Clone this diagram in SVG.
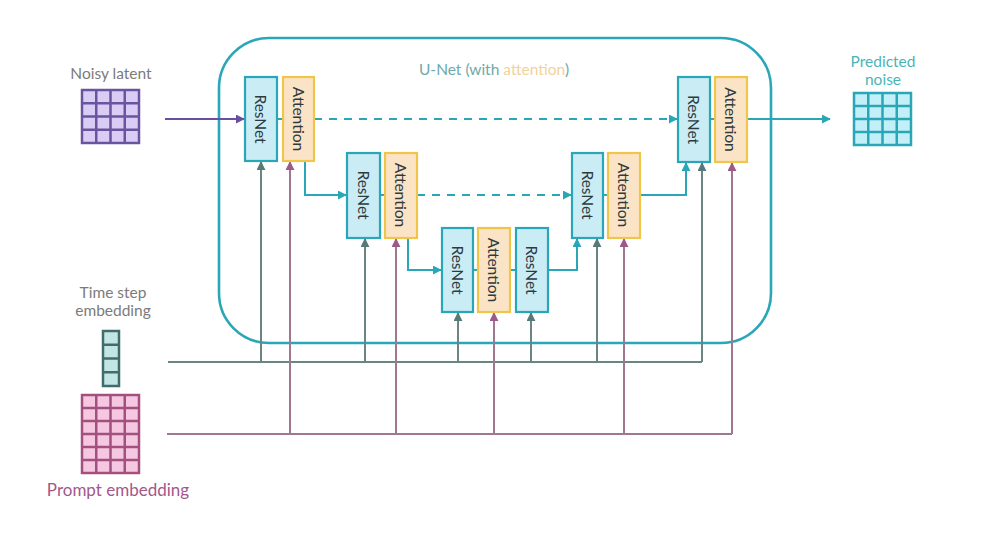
<svg xmlns="http://www.w3.org/2000/svg" width="981" height="533" viewBox="0 0 981 533">
<style>
  text { font-family: Lato, "Open Sans", "Liberation Sans", sans-serif; }
  .res { fill: #c9ecf5; stroke: #2aa7b7; stroke-width: 2.2; }
  .att { fill: #fbe4c6; stroke: #f0c64a; stroke-width: 2.2; }
  .blbl { font-size: 15.5px; fill: #2e3a3e; text-anchor: middle; dominant-baseline: central; }
  .teal { fill: none; stroke: #2aa7b7; stroke-width: 2; }
  .dash { fill: none; stroke: #2aa7b7; stroke-width: 2; stroke-dasharray: 8 7; }
  .time { fill: none; stroke: #6b8583; stroke-width: 2; }
  .prm { fill: none; stroke: #9f7790; stroke-width: 2; }
  .lbl { font-size: 15.5px; text-anchor: middle; }
</style>
<defs>
  <marker id="aTeal" viewBox="0 0 10 10" refX="9" refY="5" markerWidth="9" markerHeight="9" markerUnits="userSpaceOnUse" orient="auto"><path d="M0 0 L10 5 L0 10 z" fill="#2aa7b7"/></marker>
  <marker id="aPur" viewBox="0 0 10 10" refX="9" refY="5" markerWidth="9" markerHeight="9" markerUnits="userSpaceOnUse" orient="auto"><path d="M0 0 L10 5 L0 10 z" fill="#6a4fa0"/></marker>
  <marker id="aTime" viewBox="0 0 10 10" refX="9" refY="5" markerWidth="9" markerHeight="9" markerUnits="userSpaceOnUse" orient="auto"><path d="M0 0 L10 5 L0 10 z" fill="#557a77"/></marker>
  <marker id="aPrm" viewBox="0 0 10 10" refX="9" refY="5" markerWidth="9" markerHeight="9" markerUnits="userSpaceOnUse" orient="auto"><path d="M0 0 L10 5 L0 10 z" fill="#9b5a87"/></marker>
</defs>
<rect width="981" height="533" fill="#ffffff"/>

<g id="unet">
  <rect x="219" y="38" width="552" height="305" rx="50" ry="50" fill="none" stroke="#2aa7b7" stroke-width="2.6"/>
  <text x="494" y="75" font-size="15.5" text-anchor="middle"><tspan fill="#6ea9aa">U-Net (with </tspan><tspan fill="#f1d29c">attention</tspan><tspan fill="#6ea9aa">)</tspan></text>
</g>

<g id="connectors">
  <path class="time" d="M168 362 H702"/>
  <path class="time" d="M261 362 V162" marker-end="url(#aTime)"/>
  <path class="time" d="M365 362 V239" marker-end="url(#aTime)"/>
  <path class="time" d="M458 362 V313" marker-end="url(#aTime)"/>
  <path class="time" d="M531 362 V313" marker-end="url(#aTime)"/>
  <path class="time" d="M597 362 V239" marker-end="url(#aTime)"/>
  <path class="time" d="M702 362 V163" marker-end="url(#aTime)"/>
  <path class="prm" d="M167 434 H732"/>
  <path class="prm" d="M290 434 V162" marker-end="url(#aPrm)"/>
  <path class="prm" d="M396 434 V239" marker-end="url(#aPrm)"/>
  <path class="prm" d="M494 434 V313" marker-end="url(#aPrm)"/>
  <path class="prm" d="M624 434 V239" marker-end="url(#aPrm)"/>
  <path class="prm" d="M732 434 V163" marker-end="url(#aPrm)"/>
  <path d="M165 119 H244" fill="none" stroke="#6a4fa0" stroke-width="2" marker-end="url(#aPur)"/>
  <path class="teal" d="M277 119 H283"/>
  <path class="dash" d="M314 119 H677" marker-end="url(#aTeal)"/>
  <path class="teal" d="M710 119 H715"/>
  <path class="teal" d="M747 119 H830" marker-end="url(#aTeal)"/>
  <path class="teal" d="M305 161 V195 H346" marker-end="url(#aTeal)"/>
  <path class="teal" d="M380 195 H385"/>
  <path class="dash" d="M417 195 H571" marker-end="url(#aTeal)"/>
  <path class="teal" d="M408 238 V270 H441" marker-end="url(#aTeal)"/>
  <path class="teal" d="M473 270 H478"/>
  <path class="teal" d="M510 270 H516"/>
  <path class="teal" d="M548 270 H577 V239" marker-end="url(#aTeal)"/>
  <path class="teal" d="M603 195 H608"/>
  <path class="teal" d="M640 195 H686 V163" marker-end="url(#aTeal)"/>
</g>

<g id="resnet1">
  <rect class="res" x="245" y="77" width="32" height="84"/>
  <text class="blbl" transform="translate(261 119) rotate(90)">ResNet</text>
</g>
<g id="attention1">
  <rect class="att" x="283" y="77" width="31" height="84"/>
  <text class="blbl" transform="translate(298.5 119) rotate(90)">Attention</text>
</g>
<g id="resnet2">
  <rect class="res" x="347" y="153" width="33" height="85"/>
  <text class="blbl" transform="translate(363.5 195) rotate(90)">ResNet</text>
</g>
<g id="attention2">
  <rect class="att" x="385" y="153" width="32" height="85"/>
  <text class="blbl" transform="translate(401 195) rotate(90)">Attention</text>
</g>
<g id="resnet3">
  <rect class="res" x="442" y="228" width="31" height="84"/>
  <text class="blbl" transform="translate(457.5 270) rotate(90)">ResNet</text>
</g>
<g id="attention3">
  <rect class="att" x="478" y="228" width="32" height="84"/>
  <text class="blbl" transform="translate(494 270) rotate(90)">Attention</text>
</g>
<g id="resnet4">
  <rect class="res" x="516" y="228" width="32" height="84"/>
  <text class="blbl" transform="translate(532 270) rotate(90)">ResNet</text>
</g>
<g id="resnet5">
  <rect class="res" x="572" y="153" width="31" height="85"/>
  <text class="blbl" transform="translate(587.5 195) rotate(90)">ResNet</text>
</g>
<g id="attention5">
  <rect class="att" x="608" y="153" width="32" height="85"/>
  <text class="blbl" transform="translate(624 195) rotate(90)">Attention</text>
</g>
<g id="resnet6">
  <rect class="res" x="678" y="77" width="32" height="85"/>
  <text class="blbl" transform="translate(694 119.5) rotate(90)">ResNet</text>
</g>
<g id="attention6">
  <rect class="att" x="715" y="77" width="32" height="85"/>
  <text class="blbl" transform="translate(731 119.5) rotate(90)">Attention</text>
</g>

<g id="noisy-latent">
  <text class="lbl" x="111" y="79" fill="#7b7b7b">Noisy latent</text>
  <rect x="82" y="90" width="57" height="53" fill="#d9cdf6"/>
  <path d="M82 90 H139 V143 H82 Z M96.25 90 V143 M110.5 90 V143 M124.75 90 V143 M82 103.25 H139 M82 116.5 H139 M82 129.75 H139" fill="none" stroke="#6a54a0" stroke-width="2.5"/>
</g>

<g id="predicted-noise">
  <text class="lbl" x="883" y="67" fill="#4bb5b6">Predicted</text>
  <text class="lbl" x="883" y="85" fill="#4bb5b6">noise</text>
  <rect x="854" y="93" width="57" height="52" fill="#c3eff8"/>
  <path d="M854 93 H911 V145 H854 Z M868.25 93 V145 M882.5 93 V145 M896.75 93 V145 M854 106 H911 M854 119 H911 M854 132 H911" fill="none" stroke="#2aa7b7" stroke-width="2.5"/>
</g>

<g id="time-step">
  <text class="lbl" x="113" y="298" fill="#7b7b7b">Time step</text>
  <text class="lbl" x="113" y="316" fill="#7b7b7b">embedding</text>
  <rect x="103" y="331" width="16" height="55" fill="#c3e5e4"/>
  <path d="M103 331 H119 V386 H103 Z M103 344.75 H119 M103 358.5 H119 M103 372.25 H119" fill="none" stroke="#3f6e6a" stroke-width="2.5"/>
</g>

<g id="prompt">
  <rect x="82" y="395" width="57" height="78" fill="#f6c7e0"/>
  <path d="M82 395 H139 V473 H82 Z M96.25 395 V473 M110.5 395 V473 M124.75 395 V473 M82 408 H139 M82 421 H139 M82 434 H139 M82 447 H139 M82 460 H139" fill="none" stroke="#a3507f" stroke-width="2.5"/>
  <text class="lbl" x="118" y="496" fill="#a3578a" style="font-size:17px">Prompt embedding</text>
</g>
</svg>
